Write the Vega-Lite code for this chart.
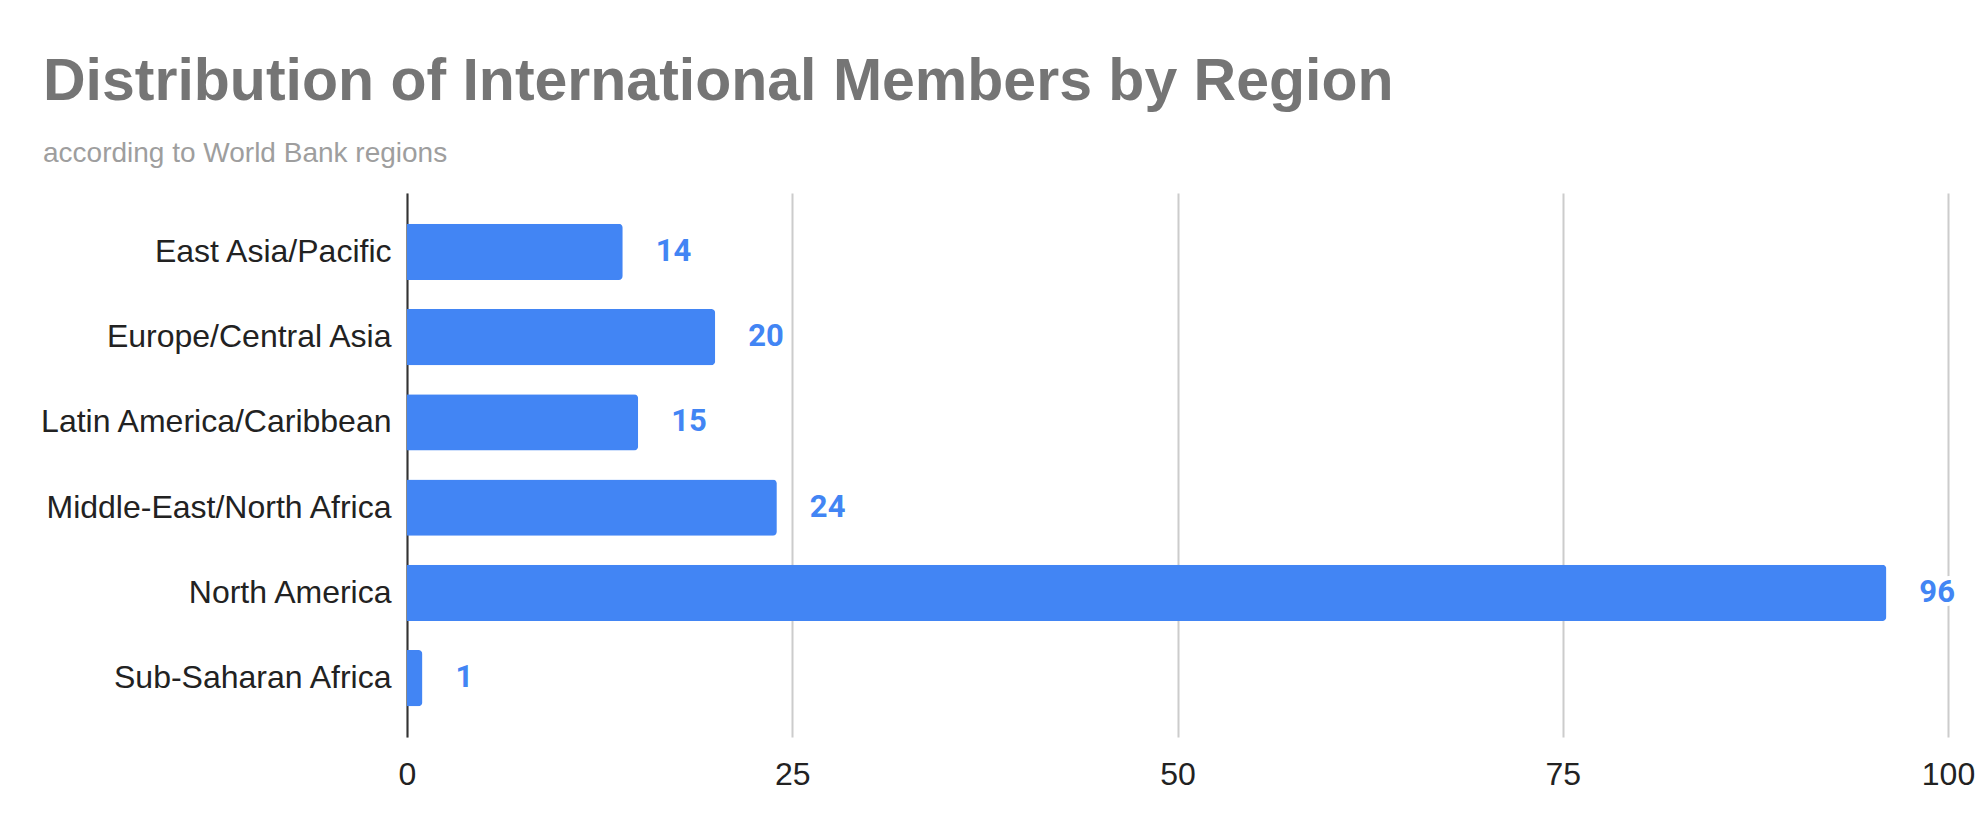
{
  "$schema": "https://vega.github.io/schema/vega-lite/v6.json",
  "background": "#ffffff",
  "autosize": {"type": "none"},
  "padding": {"left": 407, "top": 193, "right": 40, "bottom": 95},
  "width": 1541,
  "height": 544,
  "title": {
    "text": "Distribution of International Members by Region",
    "subtitle": "according to World Bank regions",
    "anchor": "start",
    "frame": "group",
    "dx": -364,
    "offset": 25,
    "font": "Liberation Sans",
    "fontSize": 59,
    "fontWeight": "bold",
    "color": "#757575",
    "subtitleFont": "Liberation Sans",
    "subtitleFontSize": 28,
    "subtitleColor": "#9e9e9e",
    "subtitlePadding": 28
  },
  "data": {
    "values": [
      {"region": "East Asia/Pacific", "members": 14},
      {"region": "Europe/Central Asia", "members": 20},
      {"region": "Latin America/Caribbean", "members": 15},
      {"region": "Middle-East/North Africa", "members": 24},
      {"region": "North America", "members": 96},
      {"region": "Sub-Saharan Africa", "members": 1}
    ]
  },
  "encoding": {
    "y": {
      "field": "region",
      "type": "nominal",
      "sort": null,
      "title": null,
      "scale": {"paddingInner": 0.34, "paddingOuter": 0.36},
      "axis": {
        "ticks": false,
        "grid": false,
        "domain": true,
        "domainColor": "#333333",
        "domainWidth": 2,
        "labelPadding": 16,
        "labelFont": "Liberation Sans",
        "labelFontSize": 32,
        "labelColor": "#222222",
        "labelLimit": 500
      }
    },
    "x": {
      "field": "members",
      "type": "quantitative",
      "title": null,
      "scale": {"domain": [0, 100], "nice": false},
      "axis": {
        "values": [0, 25, 50, 75, 100],
        "ticks": false,
        "domain": false,
        "grid": true,
        "gridColor": "#cccccc",
        "gridWidth": 2,
        "labelPadding": 22,
        "labelFont": "Liberation Sans",
        "labelFontSize": 32,
        "labelColor": "#222222",
        "labelFlush": false
      }
    }
  },
  "layer": [
    {
      "mark": {"type": "bar", "color": "#4285F4", "cornerRadiusEnd": 4}
    },
    {
      "mark": {
        "type": "text",
        "align": "left",
        "baseline": "middle",
        "dx": 33,
        "font": "Roboto",
        "fontWeight": "bold",
        "fontSize": 31,
        "stroke": "#ffffff",
        "strokeWidth": 8,
        "fill": "#ffffff"
      },
      "encoding": {"text": {"field": "members", "type": "quantitative"}}
    },
    {
      "mark": {
        "type": "text",
        "align": "left",
        "baseline": "middle",
        "dx": 33,
        "font": "Roboto",
        "fontWeight": "bold",
        "fontSize": 31,
        "color": "#4285F4"
      },
      "encoding": {"text": {"field": "members", "type": "quantitative"}}
    }
  ],
  "config": {
    "view": {"stroke": null},
    "axis": {"zindex": 0}
  }
}
